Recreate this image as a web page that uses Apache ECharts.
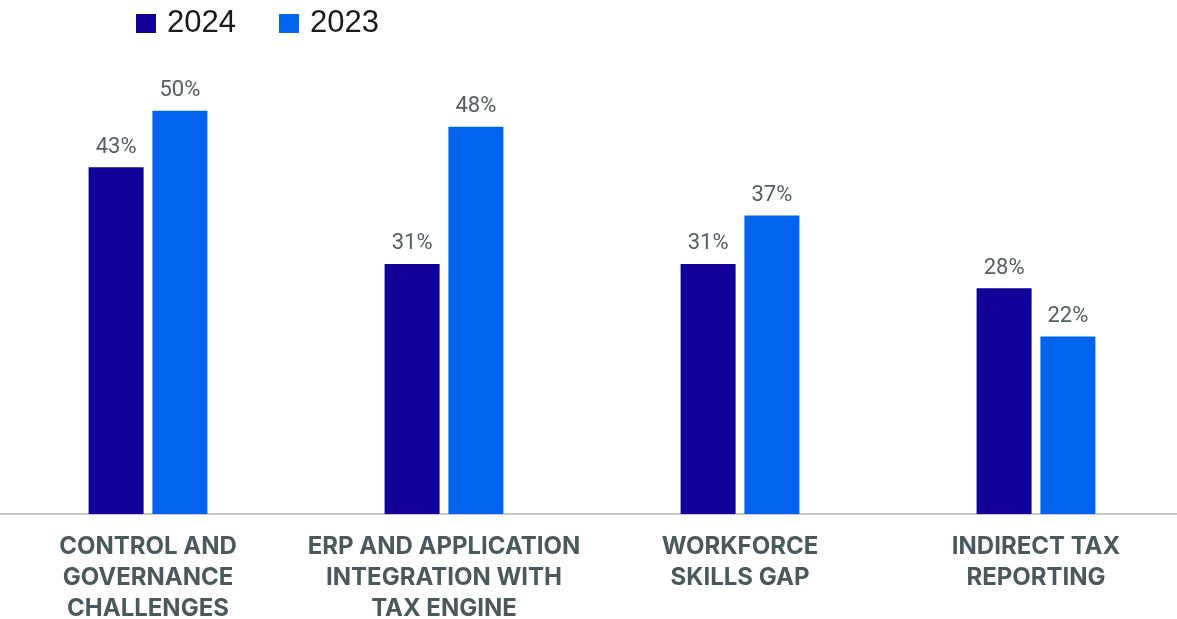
<!DOCTYPE html>
<html>
<head>
<meta charset="utf-8">
<script src="https://cdn.jsdelivr.net/npm/echarts@6/dist/echarts.min.js"></script>
<style>
  html, body { margin: 0; padding: 0; background: #ffffff; }
  #chart { width: 1177px; height: 619px; }
</style>
</head>
<body>
<div id="chart"></div>
<script>
// Challenges, share of respondents by year
const categories = [
  'CONTROL AND\nGOVERNANCE\nCHALLENGES',
  'ERP AND APPLICATION\nINTEGRATION WITH\nTAX ENGINE',
  'WORKFORCE\nSKILLS GAP',
  'INDIRECT TAX\nREPORTING'
];
const values2024 = [43, 31, 31, 28];
const values2023 = [50, 48, 37, 22];
const seriesNames = ['2024', '2023'];

const chart = echarts.init(document.getElementById('chart'));

const valueLabel = {
  show: true,
  position: 'top',
  distance: 9,
  formatter: '{c}%',
  fontFamily: 'Roboto',
  fontSize: 22,
  color: '#535f63'
};

chart.setOption({
  animation: false,
  backgroundColor: '#ffffff',
  legend: {
    left: 131,
    top: 3,
    icon: 'rect',
    itemWidth: 20,
    itemHeight: 19,
    itemGap: 43,
    textStyle: {
      fontFamily: 'Liberation Sans',
      fontSize: 31,
      color: '#1a1a1a',
      padding: [0, 0, 0, 6]
    },
    data: seriesNames
  },
  grid: {
    left: 0,
    right: -7,
    top: 30,
    bottom: 105,
    containLabel: false,
    outerBoundsMode: 'none'
  },
  xAxis: {
    type: 'category',
    data: categories,
    axisTick: { show: false },
    axisLine: { lineStyle: { color: '#c6c6c6', width: 2 } },
    axisLabel: {
      interval: 0,
      margin: 17,
      fontFamily: 'Inter',
      fontWeight: 'bold',
      fontSize: 24,
      lineHeight: 31,
      color: '#485a5e',
      align: 'center'
    }
  },
  yAxis: {
    type: 'value',
    min: 0,
    max: 60,
    show: false,
    splitLine: { show: false }
  },
  series: [
    {
      name: seriesNames[0],
      type: 'bar',
      data: values2024,
      barWidth: 55,
      barGap: '16%',
      itemStyle: { color: '#13009b' },
      label: valueLabel
    },
    {
      name: seriesNames[1],
      type: 'bar',
      data: values2023,
      barWidth: 55,
      itemStyle: { color: '#0064ef' },
      label: valueLabel
    }
  ]
});
</script>
</body>
</html>
